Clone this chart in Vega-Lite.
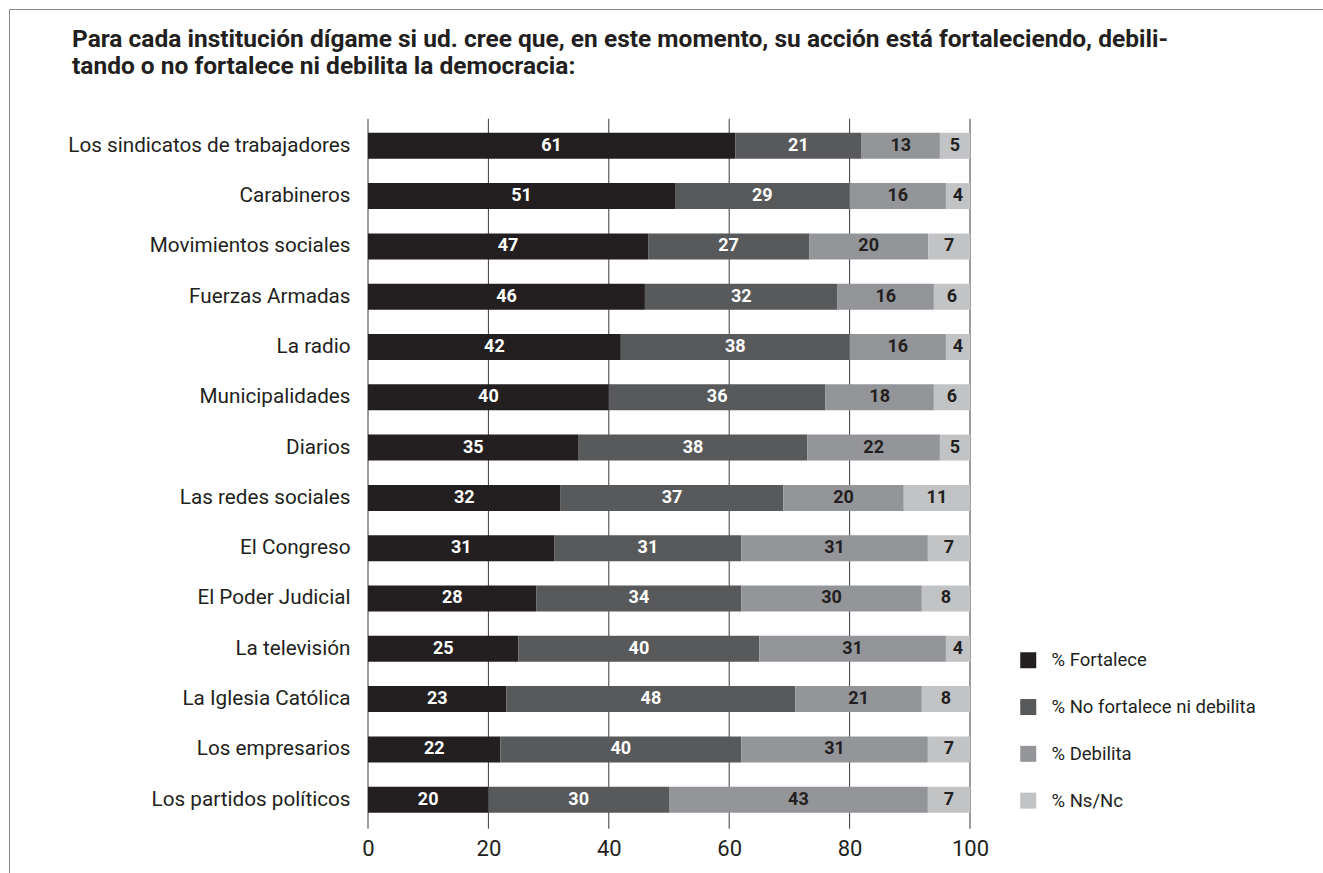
{
  "$schema": "https://vega.github.io/schema/vega-lite/v6.json",
  "width": 1400,
  "height": 928,
  "autosize": {"type": "none"},
  "padding": {"left": 9, "top": 9, "right": 0, "bottom": 0},
  "background": "white",
  "config": {
    "view": {"stroke": "#8a8a8a", "strokeWidth": 1},
    "font": "Roboto, sans-serif",
    "axis": {"labelFont": "Roboto, sans-serif", "labelColor": "#231f20"},
    "legend": {"labelFont": "Roboto, sans-serif"}
  },
  "title": {
    "text": ["Para cada institución dígame si ud. cree que, en este momento, su acción está fortaleciendo, debili-", "tando o no fortalece ni debilita la democracia:"],
    "anchor": "start",
    "frame": "group",
    "font": "Roboto, sans-serif",
    "fontSize": 24.5,
    "fontWeight": "bold",
    "color": "#231f20",
    "lineHeight": 27,
    "baseline": "top",
    "offset": 0,
    "dx": 63,
    "dy": 70
  },
  "data": {"values": [
    {"i": "Los sindicatos de trabajadores", "r": "% Fortalece", "v": 61, "o": 1},
    {"i": "Los sindicatos de trabajadores", "r": "% No fortalece ni debilita", "v": 21, "o": 2},
    {"i": "Los sindicatos de trabajadores", "r": "% Debilita", "v": 13, "o": 3},
    {"i": "Los sindicatos de trabajadores", "r": "% Ns/Nc", "v": 5, "o": 4},
    {"i": "Carabineros", "r": "% Fortalece", "v": 51, "o": 1},
    {"i": "Carabineros", "r": "% No fortalece ni debilita", "v": 29, "o": 2},
    {"i": "Carabineros", "r": "% Debilita", "v": 16, "o": 3},
    {"i": "Carabineros", "r": "% Ns/Nc", "v": 4, "o": 4},
    {"i": "Movimientos sociales", "r": "% Fortalece", "v": 47, "o": 1},
    {"i": "Movimientos sociales", "r": "% No fortalece ni debilita", "v": 27, "o": 2},
    {"i": "Movimientos sociales", "r": "% Debilita", "v": 20, "o": 3},
    {"i": "Movimientos sociales", "r": "% Ns/Nc", "v": 7, "o": 4},
    {"i": "Fuerzas Armadas", "r": "% Fortalece", "v": 46, "o": 1},
    {"i": "Fuerzas Armadas", "r": "% No fortalece ni debilita", "v": 32, "o": 2},
    {"i": "Fuerzas Armadas", "r": "% Debilita", "v": 16, "o": 3},
    {"i": "Fuerzas Armadas", "r": "% Ns/Nc", "v": 6, "o": 4},
    {"i": "La radio", "r": "% Fortalece", "v": 42, "o": 1},
    {"i": "La radio", "r": "% No fortalece ni debilita", "v": 38, "o": 2},
    {"i": "La radio", "r": "% Debilita", "v": 16, "o": 3},
    {"i": "La radio", "r": "% Ns/Nc", "v": 4, "o": 4},
    {"i": "Municipalidades", "r": "% Fortalece", "v": 40, "o": 1},
    {"i": "Municipalidades", "r": "% No fortalece ni debilita", "v": 36, "o": 2},
    {"i": "Municipalidades", "r": "% Debilita", "v": 18, "o": 3},
    {"i": "Municipalidades", "r": "% Ns/Nc", "v": 6, "o": 4},
    {"i": "Diarios", "r": "% Fortalece", "v": 35, "o": 1},
    {"i": "Diarios", "r": "% No fortalece ni debilita", "v": 38, "o": 2},
    {"i": "Diarios", "r": "% Debilita", "v": 22, "o": 3},
    {"i": "Diarios", "r": "% Ns/Nc", "v": 5, "o": 4},
    {"i": "Las redes sociales", "r": "% Fortalece", "v": 32, "o": 1},
    {"i": "Las redes sociales", "r": "% No fortalece ni debilita", "v": 37, "o": 2},
    {"i": "Las redes sociales", "r": "% Debilita", "v": 20, "o": 3},
    {"i": "Las redes sociales", "r": "% Ns/Nc", "v": 11, "o": 4},
    {"i": "El Congreso", "r": "% Fortalece", "v": 31, "o": 1},
    {"i": "El Congreso", "r": "% No fortalece ni debilita", "v": 31, "o": 2},
    {"i": "El Congreso", "r": "% Debilita", "v": 31, "o": 3},
    {"i": "El Congreso", "r": "% Ns/Nc", "v": 7, "o": 4},
    {"i": "El Poder Judicial", "r": "% Fortalece", "v": 28, "o": 1},
    {"i": "El Poder Judicial", "r": "% No fortalece ni debilita", "v": 34, "o": 2},
    {"i": "El Poder Judicial", "r": "% Debilita", "v": 30, "o": 3},
    {"i": "El Poder Judicial", "r": "% Ns/Nc", "v": 8, "o": 4},
    {"i": "La televisión\u00a0", "r": "% Fortalece", "v": 25, "o": 1},
    {"i": "La televisión\u00a0", "r": "% No fortalece ni debilita", "v": 40, "o": 2},
    {"i": "La televisión\u00a0", "r": "% Debilita", "v": 31, "o": 3},
    {"i": "La televisión\u00a0", "r": "% Ns/Nc", "v": 4, "o": 4},
    {"i": "La Iglesia Católica", "r": "% Fortalece", "v": 23, "o": 1},
    {"i": "La Iglesia Católica", "r": "% No fortalece ni debilita", "v": 48, "o": 2},
    {"i": "La Iglesia Católica", "r": "% Debilita", "v": 21, "o": 3},
    {"i": "La Iglesia Católica", "r": "% Ns/Nc", "v": 8, "o": 4},
    {"i": "Los empresarios", "r": "% Fortalece", "v": 22, "o": 1},
    {"i": "Los empresarios", "r": "% No fortalece ni debilita", "v": 40, "o": 2},
    {"i": "Los empresarios", "r": "% Debilita", "v": 31, "o": 3},
    {"i": "Los empresarios", "r": "% Ns/Nc", "v": 7, "o": 4},
    {"i": "Los partidos políticos", "r": "% Fortalece", "v": 20, "o": 1},
    {"i": "Los partidos políticos", "r": "% No fortalece ni debilita", "v": 30, "o": 2},
    {"i": "Los partidos políticos", "r": "% Debilita", "v": 43, "o": 3},
    {"i": "Los partidos políticos", "r": "% Ns/Nc", "v": 7, "o": 4}
  ]},
  "layer": [
    {
      "data": {"values": [{"t": 0}, {"t": 20}, {"t": 40}, {"t": 60}, {"t": 80}, {"t": 100}]},
      "mark": {"type": "rule", "color": "#3a3a3a", "strokeWidth": 1, "yOffset": -27, "y2Offset": 29},
      "encoding": {
        "x": {"field": "t", "type": "quantitative",
          "scale": {"domain": [-59.635, 172.924], "nice": false, "zero": false},
          "axis": {"values": [0, 20, 40, 60, 80, 100], "orient": "bottom", "offset": -107, "ticks": false, "tickSize": 0, "domain": false, "grid": false, "labelPadding": 8, "labelFontSize": 22, "title": null}},
        "y": {"datum": "Los sindicatos de trabajadores", "type": "nominal"},
        "y2": {"datum": "Los partidos políticos"}
      }
    },
    {
      "mark": {"type": "bar"},
      "encoding": {
        "x": {"field": "v", "type": "quantitative", "stack": "normalize",
          "scale": {"domain": [-0.59635, 1.72924], "nice": false, "zero": false}, "axis": null},
        "y": {"field": "i", "type": "nominal",
          "scale": {"domain": ["Los sindicatos de trabajadores", "Carabineros", "Movimientos sociales", "Fuerzas Armadas", "La radio", "Municipalidades", "Diarios", "Las redes sociales", "El Congreso", "El Poder Judicial", "La televisión\u00a0", "La Iglesia Católica", "Los empresarios", "Los partidos políticos"], "range": [123.8, 803.7], "paddingInner": 0.483, "paddingOuter": 0},
          "axis": {"orient": "left", "offset": -341, "ticks": false, "tickSize": 0, "domain": false, "grid": false, "labelPadding": 0, "labelFontSize": 20.7, "labelLimit": 0, "title": null}},
        "color": {"field": "r", "type": "nominal",
          "scale": {"domain": ["% Fortalece", "% No fortalece ni debilita", "% Debilita", "% Ns/Nc"], "range": ["#231f20", "#58595b", "#939598", "#c2c3c5"]},
          "legend": {"orient": "none", "legendX": 1010, "legendY": 642, "title": null, "symbolType": "square", "symbolSize": 256, "symbolStrokeWidth": 0, "labelFontSize": 18.5, "labelLimit": 0, "labelColor": "#231f20", "labelOffset": 14, "rowPadding": 27.8, "padding": 0}},
        "order": {"field": "o", "type": "quantitative"}
      }
    },
    {
      "mark": {"type": "text", "fontWeight": "bold", "fontSize": 18, "baseline": "middle", "align": "center"},
      "encoding": {
        "x": {"field": "v", "type": "quantitative", "stack": "normalize", "bandPosition": 0.5,
          "scale": {"domain": [-0.59635, 1.72924], "nice": false, "zero": false}, "axis": null},
        "y": {"field": "i", "type": "nominal"},
        "detail": {"field": "r", "type": "nominal"},
        "order": {"field": "o", "type": "quantitative"},
        "text": {"field": "v", "type": "quantitative"},
        "color": {"condition": {"test": "datum.o <= 2", "value": "#ffffff"}, "value": "#231f20"}
      }
    }
  ],
  "resolve": {"scale": {"x": "independent"}}
}
